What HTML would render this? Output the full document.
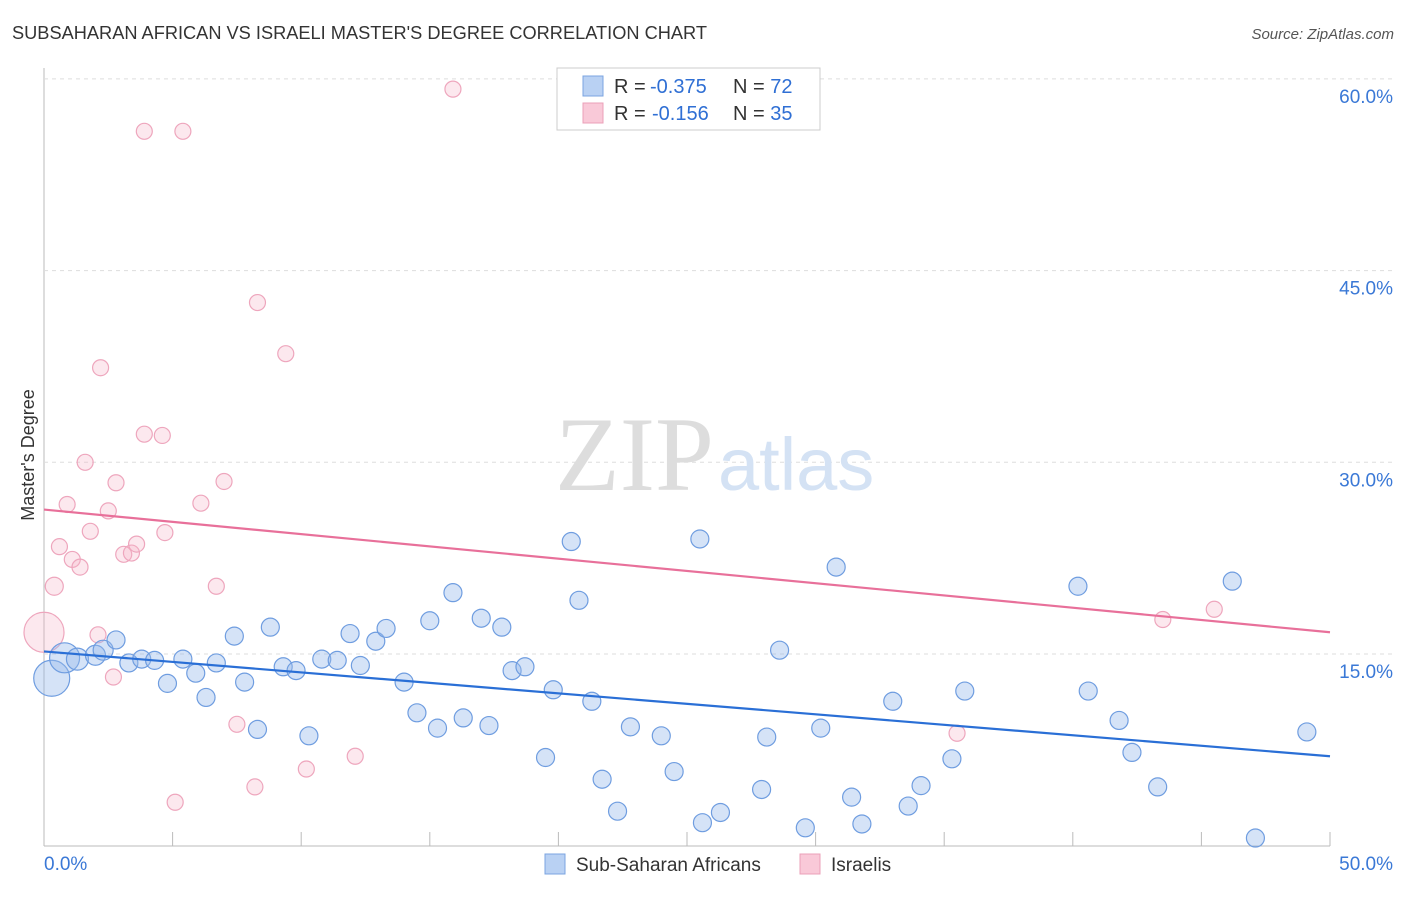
<!DOCTYPE html>
<html><head><meta charset="utf-8"><style>
body{margin:0;background:#fff;font-family:"Liberation Sans",sans-serif}
</style></head><body>
<svg id="chart" width="1406" height="892" style="font-family:'Liberation Sans',sans-serif">
<text x="12" y="39" font-size="18" fill="#333" textLength="695" lengthAdjust="spacingAndGlyphs">SUBSAHARAN AFRICAN VS ISRAELI MASTER'S DEGREE CORRELATION CHART</text>
<text x="1394" y="39" font-size="15" fill="#555" font-style="italic" text-anchor="end">Source: ZipAtlas.com</text>
<text x="34" y="455" font-size="18" fill="#333" transform="rotate(-90 34 455)" text-anchor="middle">Master's Degree</text>
<g id="grid"></g>
<text x="714" y="490" font-size="106" fill="#ddd" text-anchor="end" font-family="Liberation Serif">ZIP</text>
<text x="718" y="490" font-size="74" fill="#d4e2f4">atlas</text>
<g id="marks"></g>
<g>
<rect x="557" y="68" width="263" height="62" fill="#fff" stroke="#ccc"/>
<rect x="583" y="76" width="20" height="20" fill="#b9d1f3" stroke="#7ba4e0"/>
<rect x="583" y="103" width="20" height="20" fill="#f9c9d8" stroke="#eba0b8"/>
<text x="614" y="93" font-size="20" fill="#333">R = <tspan x="650" fill="#2f6fd4">-0.375</tspan><tspan x="733">N = </tspan><tspan fill="#2f6fd4">72</tspan></text>
<text x="614" y="120" font-size="20" fill="#333">R = <tspan x="652" fill="#2f6fd4">-0.156</tspan><tspan x="733">N = </tspan><tspan fill="#2f6fd4">35</tspan></text>
</g>
<g>
<rect x="545" y="854" width="20" height="20" fill="#b9d1f3" stroke="#7ba4e0"/>
<text x="576" y="871" font-size="19" fill="#333">Sub-Saharan Africans</text>
<rect x="800" y="854" width="20" height="20" fill="#f9c9d8" stroke="#eba0b8"/>
<text x="831" y="871" font-size="19" fill="#333">Israelis</text>
</g>
</svg>
<script>
const yTicks=[15,30,45,60];
const xTickLabels=["0.0%","50.0%"];
const blueX=[0.3,0.8,1.3,2.0,2.3,2.8,3.3,3.8,4.3,4.8,5.4,5.9,6.3,6.7,7.4,7.8,8.3,8.8,9.3,9.8,10.3,10.8,11.4,11.9,12.3,12.9,13.3,14.0,14.5,15.0,15.3,15.9,16.3,17.0,17.3,17.8,18.2,18.7,19.5,19.8,20.5,20.8,21.3,21.7,22.3,22.8,24.0,24.5,25.5,25.6,26.3,27.9,28.1,28.6,29.6,30.2,30.8,31.4,31.8,33.0,33.6,34.1,35.3,35.8,40.2,40.6,41.8,42.3,43.3,46.2,47.1,49.1];
const blueY=[13.1,14.7,14.6,14.9,15.3,16.1,14.3,14.6,14.5,12.7,14.6,13.5,11.6,14.3,16.4,12.8,9.1,17.1,14.0,13.7,8.6,14.6,14.5,16.6,14.1,16.0,17.0,12.8,10.4,17.6,9.2,19.8,10.0,17.8,9.4,17.1,13.7,14.0,6.9,12.2,23.8,19.2,11.3,5.2,2.7,9.3,8.6,5.8,24.0,1.8,2.6,4.4,8.5,15.3,1.4,9.2,21.8,3.8,1.7,11.3,3.1,4.7,6.8,12.1,20.3,12.1,9.8,7.3,4.6,20.7,0.6,8.9];
const blueR=[18,15,11,10,10,9,9,9,9,9,9,9,9,9,9,9,9,9,9,9,9,9,9,9,9,9,9,9,9,9,9,9,9,9,9,9,9,9,9,9,9,9,9,9,9,9,9,9,9,9,9,9,9,9,9,9,9,9,9,9,9,9,9,9,9,9,9,9,9,9,9,9];
const pinkX=[0.0,0.4,0.6,0.9,1.1,1.4,1.6,1.8,2.1,2.2,2.5,2.7,2.8,3.1,3.4,3.6,3.9,3.9,4.6,4.7,5.1,5.4,6.1,6.7,7.0,7.5,8.2,8.3,9.4,10.2,12.1,15.9,35.5,43.5,45.5];
const pinkY=[16.7,20.3,23.4,26.7,22.4,21.8,30.0,24.6,16.5,37.4,26.2,13.2,28.4,22.8,22.9,23.6,55.9,32.2,32.1,24.5,3.4,55.9,26.8,20.3,28.5,9.5,4.6,42.5,38.5,6.0,7.0,59.2,8.8,17.7,18.5];
const pinkR=[20,9,8,8,8,8,8,8,8,8,8,8,8,8,8,8,8,8,8,8,8,8,8,8,8,8,8,8,8,8,8,8,8,8,8];
const blueTrend=[15.2,7.0];
const pinkTrend=[26.3,16.7];
const X=v=>44+v/50*1286;
const Y=v=>845.7-v*12.78;
const NS="http://www.w3.org/2000/svg";
function mk(t,a,p){const e=document.createElementNS(NS,t);for(const k in a)e.setAttribute(k,a[k]);p.appendChild(e);return e;}
const grid=document.getElementById('grid'),marks=document.getElementById('marks');
let ax=mk('line',{x1:44,y1:68,x2:44,y2:846,stroke:'#bbb'},grid);


let bx=mk('line',{x1:44,y1:846,x2:1330,y2:846,stroke:'#bbb'},grid);


for(let i=0;i<=10;i++){const t=mk('line',{x1:X(i*5),y1:846,x2:X(i*5),y2:832,stroke:'#bbb'},grid);

}
yTicks.forEach(v=>{const l=mk('line',{x1:44,y1:Y(v),x2:1394,y2:Y(v),stroke:'#ddd','stroke-dasharray':'4,4'},grid);


const t=mk('text',{x:1393,y:Y(v)+24,'font-size':19,fill:'#3a78d6','text-anchor':'end'},grid);t.textContent=v.toFixed(1)+'%';

});
xTickLabels.forEach((s,i)=>{const t=mk('text',{x:i?1393:44,y:870,'font-size':19,fill:'#3a78d6','text-anchor':i?'end':'start'},grid);t.textContent=s;

});
pinkX.forEach((x,i)=>{const c=mk('circle',{cx:X(x),cy:Y(pinkY[i]),r:pinkR[i],fill:'rgba(246,180,200,0.3)',stroke:'#eea6bd','stroke-width':1.2},marks);

});
blueX.forEach((x,i)=>{const c=mk('circle',{cx:X(x),cy:Y(blueY[i]),r:blueR[i],fill:'rgba(150,185,235,0.4)',stroke:'#6f9de0','stroke-width':1.2},marks);

});
const pl=mk('line',{x1:X(0),y1:Y(pinkTrend[0]),x2:X(50),y2:Y(pinkTrend[1]),stroke:'#e8709a','stroke-width':2.2},marks);


const bl=mk('line',{x1:X(0),y1:Y(blueTrend[0]),x2:X(50),y2:Y(blueTrend[1]),stroke:'#2a6fd6','stroke-width':2.2},marks);


</script>
</body></html>
